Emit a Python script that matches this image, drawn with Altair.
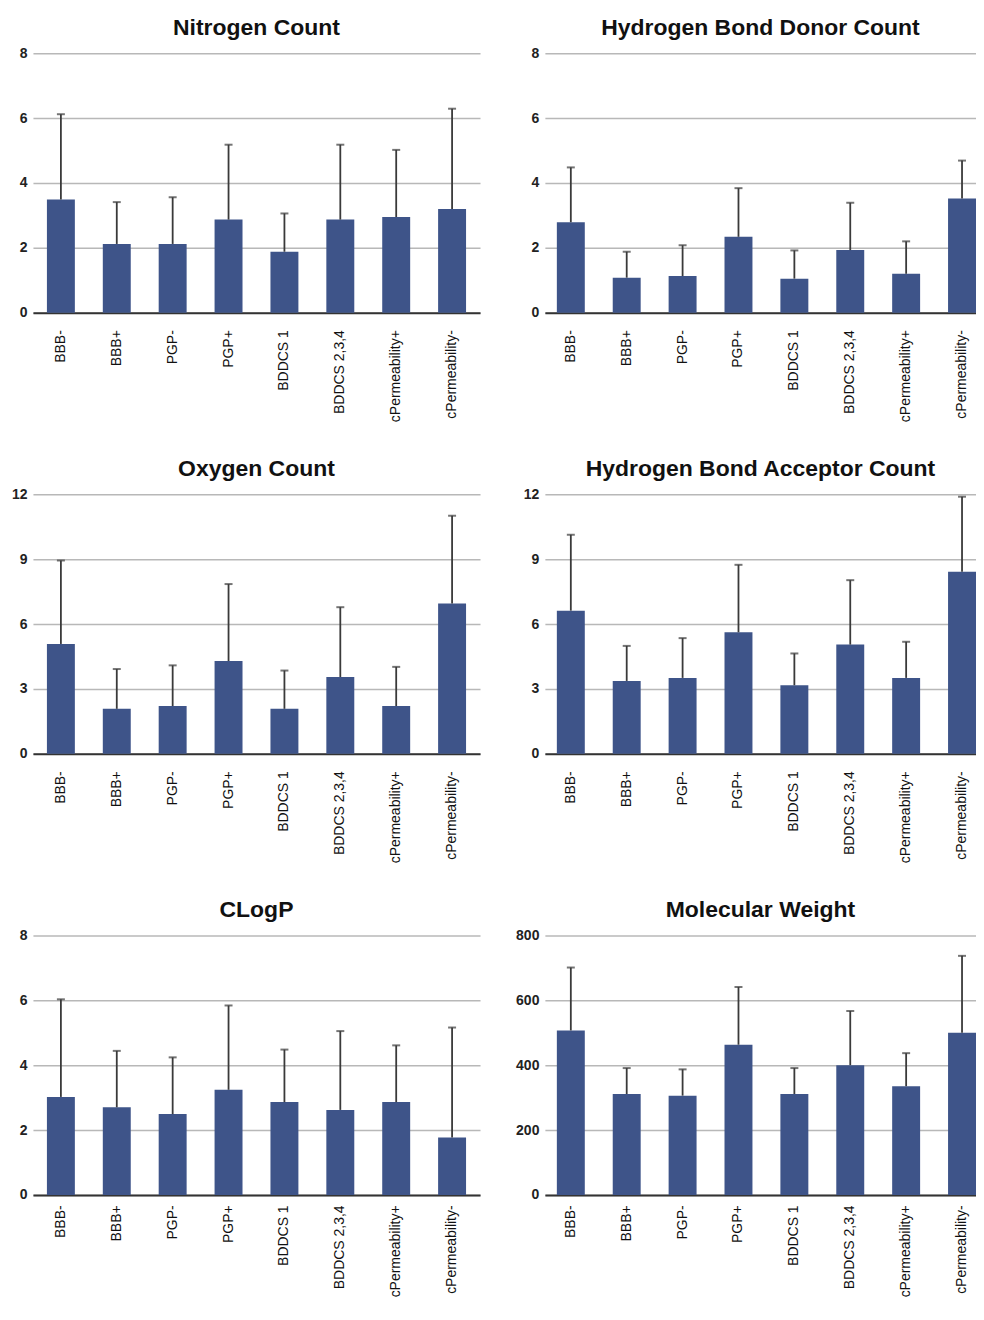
import altair as alt
import pandas as pd

categories = ["BBB-", "BBB+", "PGP-", "PGP+", "BDDCS 1", "BDDCS 2,3,4",
              "cPermeability+", "cPermeability-"]

nitrogen_mean = [3.49, 2.12, 2.12, 2.87, 1.88, 2.87, 2.95, 3.20]
nitrogen_sd = [2.63, 1.29, 1.44, 2.31, 1.18, 2.31, 2.07, 3.09]

hbd_mean = [2.79, 1.08, 1.13, 2.34, 1.05, 1.93, 1.20, 3.52]
hbd_sd = [1.69, 0.80, 0.95, 1.50, 0.87, 1.46, 1.00, 1.17]

oxygen_mean = [5.08, 2.08, 2.21, 4.29, 2.08, 3.55, 2.21, 6.95]
oxygen_sd = [3.86, 1.84, 1.88, 3.56, 1.77, 3.23, 1.81, 4.06]

hba_mean = [6.62, 3.37, 3.51, 5.62, 3.17, 5.05, 3.51, 8.42]
hba_sd = [3.51, 1.62, 1.84, 3.12, 1.47, 2.98, 1.67, 3.47]

clogp_mean = [3.02, 2.70, 2.49, 3.24, 2.86, 2.62, 2.86, 1.77]
clogp_sd = [3.01, 1.74, 1.75, 2.60, 1.62, 2.43, 1.75, 3.39]

mw_mean = [507, 311, 306, 463, 311, 400, 335, 500]
mw_sd = [194, 80, 81, 178, 80, 167, 102, 237]

FONT = "Liberation Sans"
BAR = "#3e5489"
ERR = "#3a3a3a"


def panel(title, means, sds, ymax, step, right, xext, lpad):
    df = pd.DataFrame({"cat": categories, "mean": means, "sd": sds})
    df["upper"] = df["mean"] + df["sd"]
    if right:
        xscale = alt.Scale(paddingInner=0.5, paddingOuter=0.107, align=1.0)
        w = 432
        yext = 31
    else:
        xscale = alt.Scale(paddingInner=0.5, paddingOuter=0.25)
        w = 448
        yext = 25
    xaxis = alt.Axis(title=None, labelAngle=-90, grid=False, ticks=False,
                     domain=True, domainColor="#333333", domainWidth=2,
                     labelFontSize=14, labelFont=FONT, labelColor="#111111",
                     labelPadding=lpad, minExtent=xext, maxExtent=xext)
    yaxis = alt.Axis(title=None, values=list(range(0, ymax + 1, step)),
                     grid=True, gridColor="#b8b8b8", gridWidth=1.5,
                     ticks=False, domain=False, labelFontSize=14,
                     labelFontWeight="bold", labelFont=FONT,
                     labelColor="#222222", labelPadding=6,
                     minExtent=yext, maxExtent=yext)
    yscale = alt.Scale(domain=[0, ymax], nice=False, zero=True)
    x = alt.X("cat:N", sort=categories, scale=xscale, axis=xaxis)
    bars = alt.Chart(df).mark_bar(color=BAR).encode(
        x=x, y=alt.Y("mean:Q", scale=yscale, axis=yaxis))
    rule = alt.Chart(df).mark_rule(color=ERR, strokeWidth=1.8).encode(
        x=x, y=alt.Y("mean:Q", scale=yscale, axis=yaxis), y2="upper:Q")
    cap = alt.Chart(df).mark_tick(color=ERR, thickness=2, size=8).encode(
        x=x, y=alt.Y("upper:Q", scale=yscale, axis=yaxis))
    return alt.layer(bars, rule, cap).properties(
        width=w, height=260,
        title=alt.TitleParams(title, fontSize=23, fontWeight="bold",
                              font=FONT, color="#111111", anchor="middle",
                              offset=6))


row1 = alt.hconcat(
    panel("Nitrogen Count", nitrogen_mean, nitrogen_sd, 8, 2, False, 120, 17),
    panel("Hydrogen Bond Donor Count", hbd_mean, hbd_sd, 8, 2, True, 120, 17),
    spacing=34)
row2 = alt.hconcat(
    panel("Oxygen Count", oxygen_mean, oxygen_sd, 12, 3, False, 120, 17),
    panel("Hydrogen Bond Acceptor Count", hba_mean, hba_sd, 12, 3, True,
          120, 17),
    spacing=34)
row3 = alt.hconcat(
    panel("CLogP", clogp_mean, clogp_sd, 8, 2, False, 103, 10),
    panel("Molecular Weight", mw_mean, mw_sd, 800, 200, True, 103, 10),
    spacing=34)

chart = alt.vconcat(row1, row2, row3, spacing=26).properties(
    padding={"left": 0, "top": 8, "right": 0, "bottom": 0}
).configure(background="white").configure_view(stroke=None)

chart.save("out.html", embed_options={"renderer": "svg", "actions": False})
